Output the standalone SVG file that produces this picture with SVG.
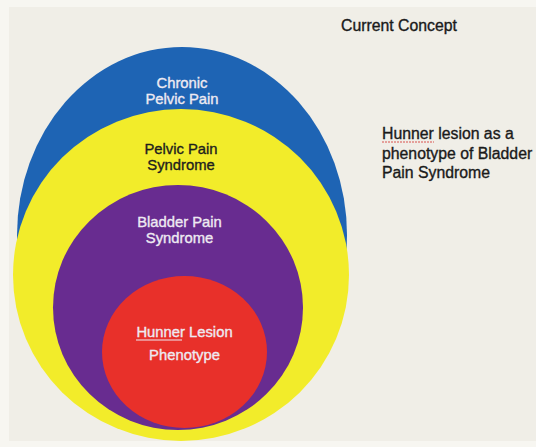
<svg xmlns="http://www.w3.org/2000/svg" width="536" height="447" viewBox="0 0 536 447">
  <style>
    .lbl { font-family: "Liberation Sans", Arial, sans-serif; font-size: 14.8px; text-anchor: middle; stroke-width: 0.35px; }
    .light { fill: #EEEAF2; stroke: #EEEAF2; }
    .dark { fill: #1E1E1E; stroke: #1E1E1E; }
    .side { font-family: "Liberation Sans", Arial, sans-serif; font-size: 15.8px; fill: #1A1A1A; stroke: #1A1A1A; stroke-width: 0.35px; }
  </style>
  <rect x="0" y="0" width="536" height="447" fill="#F7F6F1"/>
  <rect x="9" y="7" width="527" height="434" fill="#F0EEE7"/>

  <g id="chronic-pelvic-pain">
    <ellipse cx="182" cy="235" rx="165" ry="188" fill="#1E64B4"/>
    <text class="lbl light" x="182" y="88">Chronic</text>
    <text class="lbl light" x="182" y="104">Pelvic Pain</text>
  </g>

  <g id="pelvic-pain-syndrome">
    <ellipse cx="181" cy="275" rx="168" ry="166" fill="#F2EC2A"/>
    <text class="lbl dark" x="181" y="154">Pelvic Pain</text>
    <text class="lbl dark" x="181" y="170">Syndrome</text>
  </g>

  <g id="bladder-pain-syndrome">
    <ellipse cx="178" cy="307.5" rx="125" ry="122.5" fill="#682C90"/>
    <text class="lbl light" x="179.5" y="227">Bladder Pain</text>
    <text class="lbl light" x="179.5" y="243">Syndrome</text>
  </g>

  <g id="hunner-lesion-phenotype">
    <ellipse cx="184.5" cy="352" rx="82.5" ry="76" fill="#E8302A"/>
    <text class="lbl light" x="184.5" y="337">Hunner Lesion</text>
    <line x1="136" y1="340" x2="182" y2="340" stroke="#EEEAF2" stroke-width="1"/>
    <text class="lbl light" x="184.5" y="360">Phenotype</text>
  </g>

  <g id="title">
    <text class="side" x="341" y="31">Current Concept</text>
  </g>

  <g id="description">
    <text class="side" x="382" y="139">Hunner lesion as a</text>
    <line x1="382" y1="142" x2="434" y2="142" stroke="#D9534F" stroke-width="1" stroke-dasharray="2,1"/>
    <text class="side" x="382" y="159">phenotype of Bladder</text>
    <text class="side" x="382" y="178">Pain Syndrome</text>
  </g>

  <g id="connectors"></g>
</svg>
